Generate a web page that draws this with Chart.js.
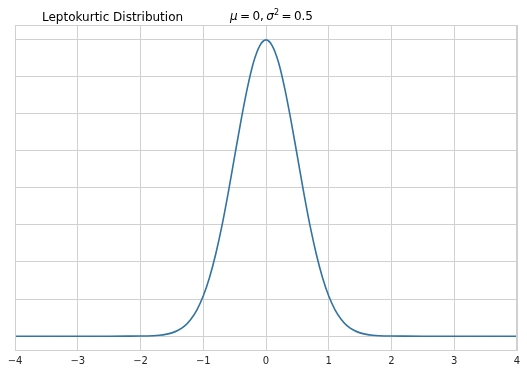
<!DOCTYPE html>
<html>
<head>
<meta charset="utf-8">
<script src="https://cdn.jsdelivr.net/npm/chart.js@4"></script>
<style>
  html, body { margin: 0; padding: 0; background: #fff; }
  #wrap { position: relative; width: 527px; height: 372px; }
  #chart { position: absolute; left: 0; top: 0; }
  .ttl { position: absolute; font-family: "DejaVu Sans", sans-serif; font-size: 12px; line-height: 14px; color: #000; white-space: nowrap; }
  .ttl sup { font-size: 8px; line-height: 0; vertical-align: 5px; }
</style>
</head>
<body>
<div id="wrap">
  <canvas id="chart" width="527" height="372"></canvas>
  <div class="ttl" style="left:42px; top:10px;">Leptokurtic Distribution</div>
  <div class="ttl" style="left:230px; top:9px;"><i>μ</i>&#8201;=&#8201;0,&#8201;<i>σ</i><sup>2</sup>&#8201;=&#8201;0.5</div>
</div>
<script>
// data
const xValues = [-4, -3, -2.5, -2.2, -2.0, -1.9, -1.8, -1.7, -1.6, -1.5, -1.4, -1.3, -1.2, -1.1, -1.0,
  -0.9, -0.8, -0.7, -0.6, -0.5, -0.4, -0.3, -0.2, -0.1, 0,
  0.1, 0.2, 0.3, 0.4, 0.5, 0.6, 0.7, 0.8, 0.9, 1.0,
  1.1, 1.2, 1.3, 1.4, 1.5, 1.6, 1.7, 1.8, 1.9, 2.0, 2.2, 2.5, 3, 4];
const densityValues = [0, 0, 0, 0.0001, 0.0003, 0.0006, 0.0012, 0.0025, 0.0048, 0.0089, 0.016, 0.027, 0.045, 0.071, 0.108,
  0.158, 0.222, 0.299, 0.388, 0.484, 0.579, 0.666, 0.737, 0.782, 0.798,
  0.782, 0.737, 0.666, 0.579, 0.484, 0.388, 0.299, 0.222, 0.158, 0.108,
  0.071, 0.045, 0.027, 0.016, 0.0089, 0.0048, 0.0025, 0.0012, 0.0006, 0.0003, 0.0001, 0, 0, 0];
const xTicks = [-4, -3, -2, -1, 0, 1, 2, 3, 4];
const yTicks = [0, 0.1, 0.2, 0.3, 0.4, 0.5, 0.6, 0.7, 0.8];

const gridColor = '#d0d0d0';
const lineColor = '#3274a1';

// frame around plot area (all four spines)
const framePlugin = {
  id: 'frame',
  afterDraw(chart) {
    const a = chart.chartArea, ctx = chart.ctx;
    ctx.save();
    ctx.strokeStyle = gridColor;
    ctx.lineWidth = 1;
    ctx.strokeRect(a.left + 0.5, a.top + 0.5, a.right - a.left - 1, a.bottom - a.top - 1);
    ctx.restore();
  }
};

new Chart(document.getElementById('chart'), {
  type: 'line',
  data: {
    datasets: [{
      data: xValues.map((x, i) => ({ x: x, y: densityValues[i] })),
      borderColor: lineColor,
      borderWidth: 1.6,
      pointRadius: 0,
      fill: false,
      cubicInterpolationMode: 'monotone'
    }]
  },
  options: {
    responsive: false,
    animation: false,
    devicePixelRatio: 1,
    layout: { padding: { left: 15, right: 10, top: 25, bottom: 1 } },
    plugins: { legend: { display: false }, tooltip: { enabled: false } },
    scales: {
      x: {
        type: 'linear',
        min: -4, max: 4,
        afterBuildTicks: s => { s.ticks = xTicks.map(v => ({ value: v })); },
        grid: { color: gridColor, drawTicks: false },
        border: { display: false },
        ticks: {
          padding: 4,
          color: '#262626',
          font: { family: 'DejaVu Sans', size: 10 },
          callback: v => (v < 0 ? '\u2212' + Math.abs(v) : String(v))
        }
      },
      y: {
        min: -0.0399, max: 0.838,
        afterBuildTicks: s => { s.ticks = yTicks.map(v => ({ value: v })); },
        grid: { color: gridColor, drawTicks: false },
        border: { display: false },
        ticks: { display: false }
      }
    }
  },
  plugins: [framePlugin]
});
</script>
</body>
</html>
